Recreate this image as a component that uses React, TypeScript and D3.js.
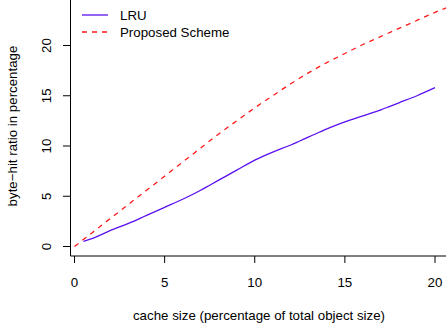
import React from "react";
import * as d3 from "d3";

// Cache size (% of total object size) and byte-hit ratio (%)
const lruX = [0.5, 1, 2, 3, 4, 5, 6, 7, 7.5, 8, 9, 10, 11, 12, 12.5, 13, 14, 15, 16, 17, 17.5, 18, 19, 20];
const lruY = [0.5, 0.8, 1.6, 2.3, 3.1, 3.9, 4.7, 5.6, 6.1, 6.6, 7.6, 8.6, 9.4, 10.1, 10.5, 10.9, 11.7, 12.4, 13.0, 13.6, 13.95, 14.3, 15.0, 15.8];
const propX = [0, 1, 2, 3, 4, 5, 6, 7, 8, 9, 10, 11, 12, 13, 14, 15, 16, 17, 18, 19, 20, 21];
const propY = [0, 1.4, 2.8, 4.2, 5.6, 7.0, 8.4, 9.8, 11.2, 12.5, 13.8, 15.0, 16.2, 17.3, 18.3, 19.2, 20.1, 20.9, 21.7, 22.5, 23.3, 24.0];
const xTicks = [0, 5, 10, 15, 20];
const yTicks = [0, 5, 10, 15, 20];
const seriesNames = ["LRU", "Proposed Scheme"];

const W = 446;
const H = 334;
const FONT = "'Liberation Sans', Arial, Helvetica, sans-serif";
const FS = 13.3;
const LRU_COLOR = "#5a10f0";
const PROP_COLOR = "#ff1a1a";

export default function App() {
  const x = d3.scaleLinear().domain([0, 20]).range([74.5, 435]);
  const y = d3.scaleLinear().domain([0, 20]).range([246.5, 45.5]);
  const axisX = 70.5;
  const axisY = 256;

  const line = d3
    .line<[number, number]>()
    .x((d) => x(d[0]))
    .y((d) => y(d[1]));

  const lruPts: [number, number][] = lruX.map((v, i) => [v, lruY[i]]);
  const propPts: [number, number][] = propX.map((v, i) => [v, propY[i]]);

  return (
    <svg
      width={W}
      height={H}
      style={{ position: "absolute", left: 0, top: 0, background: "#fff" }}
      fontFamily={FONT}
      fontSize={FS}
    >
      <defs>
        <clipPath id="plotArea">
          <rect x={axisX} y={0} width={W - axisX} height={axisY} />
        </clipPath>
      </defs>

      {/* L-shaped frame */}
      <path
        d={`M${axisX},0 V${axisY} H${W}`}
        fill="none"
        stroke="#000"
        strokeWidth={1}
      />

      {/* y axis ticks and labels */}
      {yTicks.map((t) => (
        <g key={`y${t}`}>
          <line x1={63} x2={axisX} y1={y(t)} y2={y(t)} stroke="#000" />
          <text
            transform={`translate(50.5,${y(t)}) rotate(-90)`}
            textAnchor="middle"
          >
            {t}
          </text>
        </g>
      ))}

      {/* x axis ticks and labels */}
      {xTicks.map((t) => (
        <g key={`x${t}`}>
          <line x1={x(t)} x2={x(t)} y1={axisY} y2={263} stroke="#000" />
          <text x={x(t)} y={287} textAnchor="middle">
            {t}
          </text>
        </g>
      ))}

      {/* axis titles */}
      <text x={259} y={320} textAnchor="middle">
        cache size (percentage of total object size)
      </text>
      <text transform="translate(17,126) rotate(-90)" textAnchor="middle">
        byte−hit ratio in percentage
      </text>

      {/* series */}
      <g clipPath="url(#plotArea)">
        <path
          d={line.curve(d3.curveMonotoneX)(lruPts) ?? ""}
          fill="none"
          stroke={LRU_COLOR}
          strokeWidth={1.3}
        />
        <path
          d={line.curve(d3.curveMonotoneX)(propPts) ?? ""}
          fill="none"
          stroke={PROP_COLOR}
          strokeWidth={1.3}
          strokeDasharray="5,5"
        />
      </g>

      {/* legend */}
      <line x1={82} x2={108} y1={15} y2={15} stroke={LRU_COLOR} strokeWidth={1.3} />
      <line
        x1={82}
        x2={108}
        y1={32}
        y2={32}
        stroke={PROP_COLOR}
        strokeWidth={1.3}
        strokeDasharray="5,5"
      />
      <text x={120} y={20}>
        {seriesNames[0]}
      </text>
      <text x={120} y={36.8}>
        {seriesNames[1]}
      </text>
    </svg>
  );
}
